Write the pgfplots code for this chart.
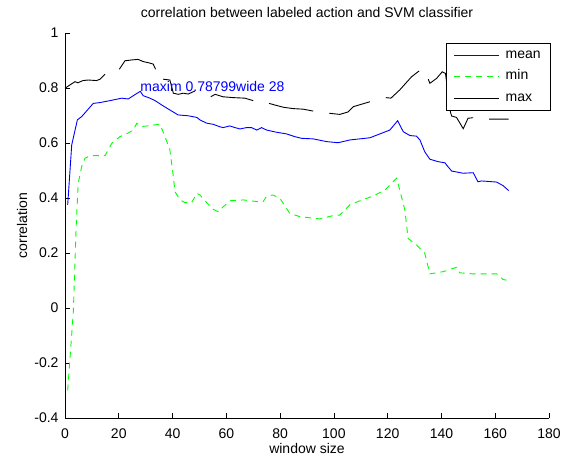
\documentclass[border=0pt]{standalone}
\usepackage{fontspec}
\setmainfont{Liberation Sans}
\usepackage{pgfplots}
\pgfplotsset{compat=1.18}
\definecolor{mblue}{rgb}{0,0,1}
\definecolor{mgreen}{rgb}{0,1,0}
\begin{document}
\begin{tikzpicture}[font=\fontsize{14}{16}\selectfont]
\begin{axis}[
  name=ax,
  scale only axis, width=484pt, height=385pt,
  xmin=0, xmax=180, ymin=-0.4, ymax=1,
  xtick={0,20,40,60,80,100,120,140,160,180},
  ytick={-0.4,-0.2,0,0.2,0.4,0.6,0.8,1},
  axis x line*=bottom, axis y line*=left,
  axis line style={black, line width=0.6pt},
  tick align=inside, major tick length=5pt,
  tick style={black, line width=0.6pt},
  /pgf/number format/assume math mode=true,
  xticklabel style={yshift=-7pt},
  yticklabel style={xshift=-3pt},
  title={correlation between labeled action and SVM classifier},
  title style={at={(0.5,1.0364)}, anchor=center},
  xlabel={window size},
  xlabel style={at={(0.5,-0.080)}, anchor=center},
  ylabel={correlation},
  ylabel style={at={(-0.0888,0.5)}, anchor=center},
  clip=false,
  unbounded coords=jump,
  legend cell align=left,
  legend image code/.code={\path (0pt,0pt); \draw[#1] (6pt,0pt) -- (51pt,0pt);},
  legend style={at={(1.002,0.974)}, anchor=north east, draw=none, fill=none,
    inner xsep=3pt, inner ysep=1pt, row sep=0pt, column sep=0pt,
    nodes={inner xsep=6pt, inner ysep=4.85pt, text height=9pt, text depth=3pt}},
]
\addlegendimage{draw=blue, color=blue, line width=0.9pt}
\addlegendentry{mean}
\addlegendimage{draw=mgreen, color=mgreen, line width=0.9pt, dash pattern=on 6pt off 5pt}
\addlegendentry{min}
\addlegendimage{draw=black, color=black, line width=0.9pt}
\addlegendentry{max}
\addplot[mblue, line width=0.9pt, forget plot] coordinates {
(1,0.375) (2.5,0.593) (4.6,0.684) (6.2,0.696) (10.5,0.744) (13,0.747) (16.7,0.754)
(21.1,0.763) (23.5,0.760) (25.4,0.772) (28,0.788) (29.1,0.772) (31.6,0.763) (33.5,0.754)
(36.5,0.735) (39.0,0.720) (42.1,0.702) (45.8,0.699) (49.0,0.693) (50.2,0.684) (52.7,0.672)
(55.1,0.668) (57.6,0.659) (58.8,0.656) (61.3,0.662) (63.2,0.656) (65.1,0.651) (67.5,0.656)
(69.4,0.656) (71.3,0.647) (73.1,0.656) (75.0,0.647) (78.7,0.639) (82.4,0.633) (85.5,0.623)
(88.0,0.617) (92.3,0.615) (97.3,0.605) (101.6,0.601) (105.9,0.611) (113.4,0.619) (117.1,0.633)
(120.8,0.647) (123.7,0.681) (125.8,0.641) (128.3,0.627) (130.7,0.625) (132.0,0.611) (133.8,0.568)
(135.7,0.541) (138.8,0.532) (141.3,0.528) (141.9,0.520) (143.8,0.498) (148.1,0.490) (151.8,0.492)
(153.6,0.459) (154.9,0.462) (160.5,0.458) (162.9,0.445) (165,0.427)
};
\addplot[mgreen, line width=0.9pt, dash pattern=on 6pt off 5pt, forget plot] coordinates {
(1,-0.30) (3.1,-0.013) (4.1,0.284) (4.9,0.453) (6.2,0.514) (7.4,0.544) (9.3,0.554) (14.9,0.554)
(17.4,0.599) (20.4,0.623) (23.4,0.636) (25.4,0.647) (26.7,0.672) (28.5,0.660) (31.6,0.663)
(35.3,0.669) (37.2,0.623) (39.0,0.575) (40.3,0.477) (40.9,0.423) (42.8,0.393) (44.6,0.383)
(47.1,0.383) (49.0,0.417) (50.2,0.411) (52.7,0.383) (55.1,0.359) (57.0,0.350) (58.3,0.363)
(61.3,0.390) (66.3,0.393) (71.3,0.387) (73.7,0.387) (75.0,0.407) (77.4,0.411) (79.9,0.399)
(83.6,0.344) (87.4,0.332) (94.8,0.324) (99.7,0.336) (102.2,0.338) (105.9,0.375) (109.7,0.390)
(114.6,0.407) (119.0,0.429) (123.3,0.472) (124.5,0.429) (126.4,0.356) (127.6,0.253) (130.7,0.229)
(133.8,0.199) (135.7,0.124) (140.6,0.132) (145.6,0.148) (146.8,0.128) (151.8,0.124) (156.8,0.124)
(160.5,0.124) (162.9,0.104) (165,0.099)
};
\addplot[black, line width=0.9pt, forget plot] coordinates {
(0,0.799) (3.7,0.823) (4.8,0.819) (6.7,0.827) (8.6,0.829) (11.8,0.827) (13.0,0.832) (14.9,0.850)
(16,nan)
(20.2,0.868) (22.3,0.899) (24.8,0.902) (27.2,0.904) (29.1,0.896) (31.0,0.892) (32.8,0.887) (33.7,0.868)
(35,nan)
(36.5,0.832) (39.0,0.829) (40.3,0.781) (42.1,0.777) (44.0,0.781) (45.8,0.778) (48.3,0.789)
(50,nan)
(54.2,0.768) (55.8,0.777) (58.8,0.768) (62.6,0.765) (66.9,0.763) (70.0,0.754)
(72,nan)
(75.9,0.744) (78.1,0.738) (81.2,0.730) (84.9,0.725) (88.6,0.723) (92.3,0.716)
(95,nan)
(98.3,0.708) (102.2,0.704) (105.3,0.713) (107.2,0.732) (113.4,0.750)
(116,nan)
(119.3,0.765) (121.2,0.763) (124.5,0.793) (128.9,0.841) (131.7,0.862)
(133,nan)
(135.1,0.832) (135.7,0.817) (138.2,0.835) (140.3,0.859) (141.5,0.853) (143.4,0.710) (143.8,0.698)
(145.6,0.693) (148.1,0.652) (149.9,0.690) (151.8,0.692)
(154,nan)
(157.7,0.687) (165,0.687)
};
\node[anchor=west, text=mblue, inner sep=0pt] at (axis cs:28,0.805) {maxim 0.78799wide 28};
\draw[black, line width=0.6pt, fill=white] (rel axis cs:0.7872,0.8) rectangle (rel axis cs:1.002,0.974);
\end{axis}
\pgfresetboundingbox
\path[use as bounding box] ([shift={(-65pt,-39pt)}]ax.south west) rectangle ([shift={(22pt,33pt)}]ax.north east);
\end{tikzpicture}
\end{document}
